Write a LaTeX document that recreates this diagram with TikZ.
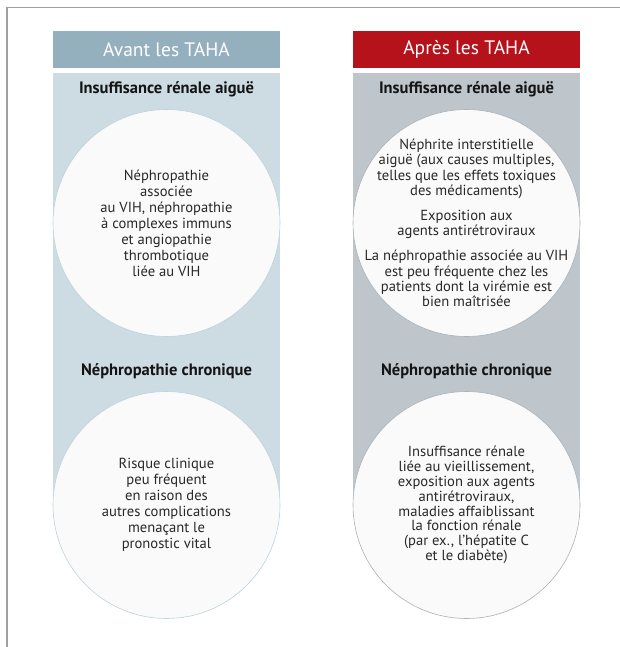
\documentclass[tikz,border=0pt]{standalone}
\usepackage{fontspec}
\setmainfont{PT Sans}
\usetikzlibrary{positioning}
\definecolor{cadre}{RGB}{160,160,160}
\definecolor{avanthead}{RGB}{148,175,189}
\definecolor{avantbody}{RGB}{205,219,226}
\definecolor{avantbord}{RGB}{190,210,221}
\definecolor{apreshead}{RGB}{181,18,27}
\definecolor{apresbody}{RGB}{190,197,203}
\definecolor{apresbord}{RGB}{170,178,186}
\definecolor{bullefill}{RGB}{250,250,250}
\definecolor{texte}{RGB}{40,40,40}
\definecolor{titrecol}{RGB}{20,20,20}

\begin{document}
\begin{tikzpicture}[x=1pt,y=-1pt,
	entete/.style={minimum width=227pt,minimum height=36.7pt,inner sep=0pt,text=white,
		font=\fontsize{19.5}{22}\selectfont},
	colonne/.style={minimum width=227pt,minimum height=420pt,inner sep=0pt,anchor=north},
	titre/.style={font=\fontsize{16.5}{18}\selectfont\bfseries,text=titrecol},
	bulle/.style={circle,minimum size=227pt,inner sep=0pt,fill=bullefill,line width=0.6pt},
	bulletexte/.style={align=center,text=texte,inner sep=0pt,font=\fontsize{14.6}{16}\selectfont}]
	\useasboundingbox (0,0) rectangle (620,647);
	\draw[cadre,line width=1.5pt] (7,647) -- (7,7.5) -- (620,7.5);

	% en-tetes et colonnes
	\node[entete,fill=avanthead] (avant) at (166.5,49.35) {Avant les TAHA};
	\node[entete,fill=apreshead] (apres) at (466.5,49.35) {Après les TAHA};
	\node[colonne,fill=avantbody,below=5.3pt of avant] (avantcol) {};
	\node[colonne,fill=apresbody,below=5.3pt of apres] (aprescol) {};

	\node[titre] (avantira) at (166.5,89) {Insuffisance rénale aiguë};
	\node[titre] (apresira) at (466.5,89) {Insuffisance rénale aiguë};
	\node[titre] (avantnc) at (166.5,371) {Néphropathie chronique};
	\node[titre] (apresnc) at (466.5,371) {Néphropathie chronique};

	% bulles
	\node[bulle,draw=avantbord] (avantb1) at (166.5,223) {};
	\node[bulle,draw=avantbord] (avantb2) at (166.5,505) {};
	\node[bulle,draw=apresbord] (apresb1) at (466.5,223) {};
	\node[bulle,draw=apresbord] (apresb2) at (466.5,505) {};

	\node[bulletexte] (avantt1) at (avantb1.center)
		{Néphropathie\\associée\\au VIH, néphropathie\\à complexes immuns\\et angiopathie\\thrombotique\\liée au VIH};
	\node[bulletexte] (avantt2) at (avantb2.center)
		{Risque clinique\\peu fréquent\\en raison des\\autres complications\\menaçant le\\pronostic vital};
	\node[bulletexte,font=\fontsize{14.6}{15.2}\selectfont] (aprest1) at (apresb1.center)
		{Néphrite interstitielle\\aiguë (aux causes multiples,\\telles que les effets toxiques\\des médicaments)\\[10pt]
		Exposition aux\\agents antirétroviraux\\[10pt]
		La néphropathie associée au VIH\\est peu fréquente chez les\\patients dont la virémie est\\bien maîtrisée};
	\node[bulletexte,font=\fontsize{14.6}{14.8}\selectfont] (aprest2) at (apresb2.center)
		{Insuffisance rénale\\liée au vieillissement,\\exposition aux agents\\antirétroviraux,\\maladies affaiblissant\\la fonction rénale\\(par ex., l’hépatite C\\et le diabète)};
\end{tikzpicture}
\end{document}
